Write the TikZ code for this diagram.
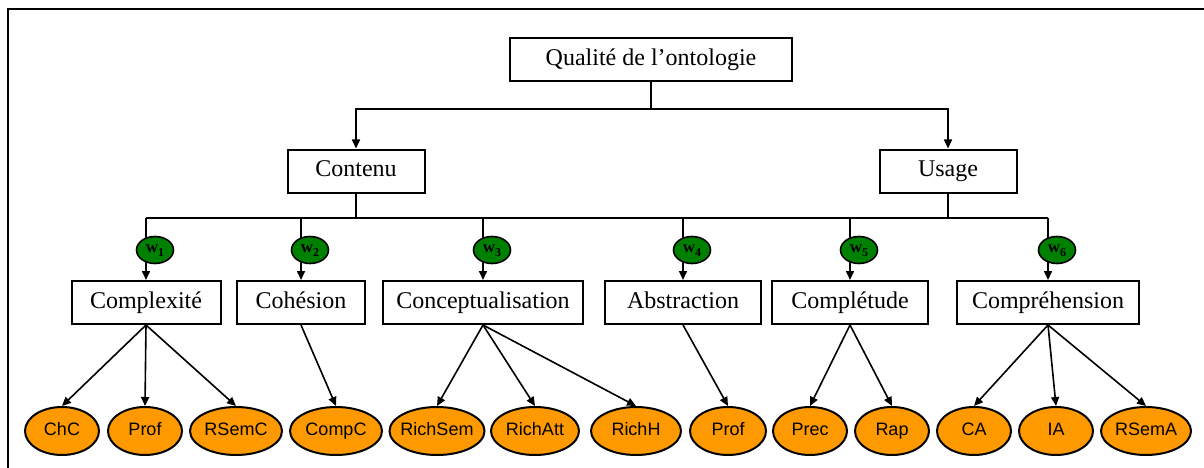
\documentclass[tikz,border=0pt]{standalone}
\usepackage{fontspec}
\setmainfont{Liberation Serif}
\newfontfamily\leaffont{Liberation Sans}
\usepackage{tikz}
\usetikzlibrary{positioning, arrows.meta, shapes.geometric}

\definecolor{leaforange}{RGB}{255,153,0}
\definecolor{wgreen}{RGB}{0,128,0}

\tikzset{
    crit/.style={draw, line width=2pt, minimum height=43pt, inner sep=0pt,
        text height=16.5pt, text depth=5pt, font=\fontsize{24}{28}\selectfont},
    weight/.style={ellipse, draw, line width=1.6pt, fill=wgreen, minimum width=37pt,
        minimum height=27pt, inner sep=0pt, text height=8pt, text depth=4pt,
        font=\fontsize{17}{17}\selectfont\bfseries},
    leaf/.style={ellipse, draw, line width=2pt, fill=leaforange, minimum width=74pt,
        minimum height=48pt, inner xsep=-4pt, inner ysep=0pt,
        text height=13pt, text depth=3.5pt,
        font=\leaffont\fontsize{18}{20}\selectfont},
}

\begin{document}
\begin{tikzpicture}[x=1pt, y=-1pt, >={Triangle[length=9pt, width=8pt]}, line width=1.6pt]
    \useasboundingbox (0,0) rectangle (1204,468);
    \draw[line width=2.2pt] (8.3,490) |- (1230,9.3);

    % levels 1 and 2
    \node[crit, minimum width=282pt] (qual) at (651,59.5) {Qualité de l’ontologie};
    \node[crit, minimum width=137pt] (contenu) at (356,171) {Contenu};
    \node[crit, minimum width=137pt] (usage) at (948,171) {Usage};

    % criteria
    \node[crit, minimum width=149pt] (complexite) at (146,302.5) {Complexité};
    \node[crit, minimum width=128pt] (cohesion) at (301,302.5) {Cohésion};
    \node[crit, minimum width=200pt] (concept) at (483,302.5) {Conceptualisation};
    \node[crit, minimum width=156pt] (abstraction) at (683,302.5) {Abstraction};
    \node[crit, minimum width=156pt] (completude) at (850,302.5) {Complétude};
    \node[crit, minimum width=182pt] (comprehension) at (1048,302.5) {Compréhension};

    \coordinate (bus) at (0,218);
    \draw[->] (qual.south) -- ++(0,27) -| (contenu.north);
    \draw[->] (qual.south) -- ++(0,27) -| (usage.north);
    \draw (contenu.south) -- (contenu.south |- bus);
    \draw (usage.south) -- (usage.south |- bus);
    \draw (complexite.north |- bus) -- (comprehension.north |- bus);
    \foreach \c in {complexite, cohesion, concept, abstraction, completude, comprehension}
        \draw[->] (\c.north |- bus) -- (\c.north);

    % weights
    \foreach \c/\n in {complexite/1, cohesion/2, concept/3, abstraction/4, completude/5, comprehension/6}
        \node[weight, xshift=9pt, yshift=-32pt] (w\n) at (\c.north |- bus)
            {w\raisebox{-4pt}{\fontsize{12}{12}\selectfont\n}};

    % metrics
    \node[leaf] (chc) at (62,431) {ChC};
    \node[leaf] (prof1) at (145,431) {Prof};
    \node[leaf, minimum width=92pt] (rsemc) at (236,431) {RSemC};
    \node[leaf, minimum width=92pt] (compc) at (336,431) {CompC};
    \node[leaf, minimum width=95pt] (richsem) at (437,431) {RichSem};
    \node[leaf, minimum width=88pt] (richatt) at (535,431) {RichAtt};
    \node[leaf, minimum width=90pt] (richh) at (636,431) {RichH};
    \node[leaf, minimum width=76pt] (prof2) at (728,431) {Prof};
    \node[leaf] (prec) at (810,431) {Prec};
    \node[leaf] (rap) at (892,431) {Rap};
    \node[leaf] (ca) at (974,431) {CA};
    \node[leaf] (ia) at (1056,431) {IA};
    \node[leaf, minimum width=90pt] (rsema) at (1146,431) {RSemA};

    \path[->]
    (complexite.south) edge (chc.north) edge (prof1.north) edge (rsemc.north)
    (cohesion.south) edge (compc.north)
    (concept.south) edge (richsem.north) edge (richatt.north) edge (richh.north)
    (abstraction.south) edge (prof2.north)
    (completude.south) edge (prec.north) edge (rap.north)
    (comprehension.south) edge (ca.north) edge (ia.north) edge (rsema.north);
\end{tikzpicture}
\end{document}
